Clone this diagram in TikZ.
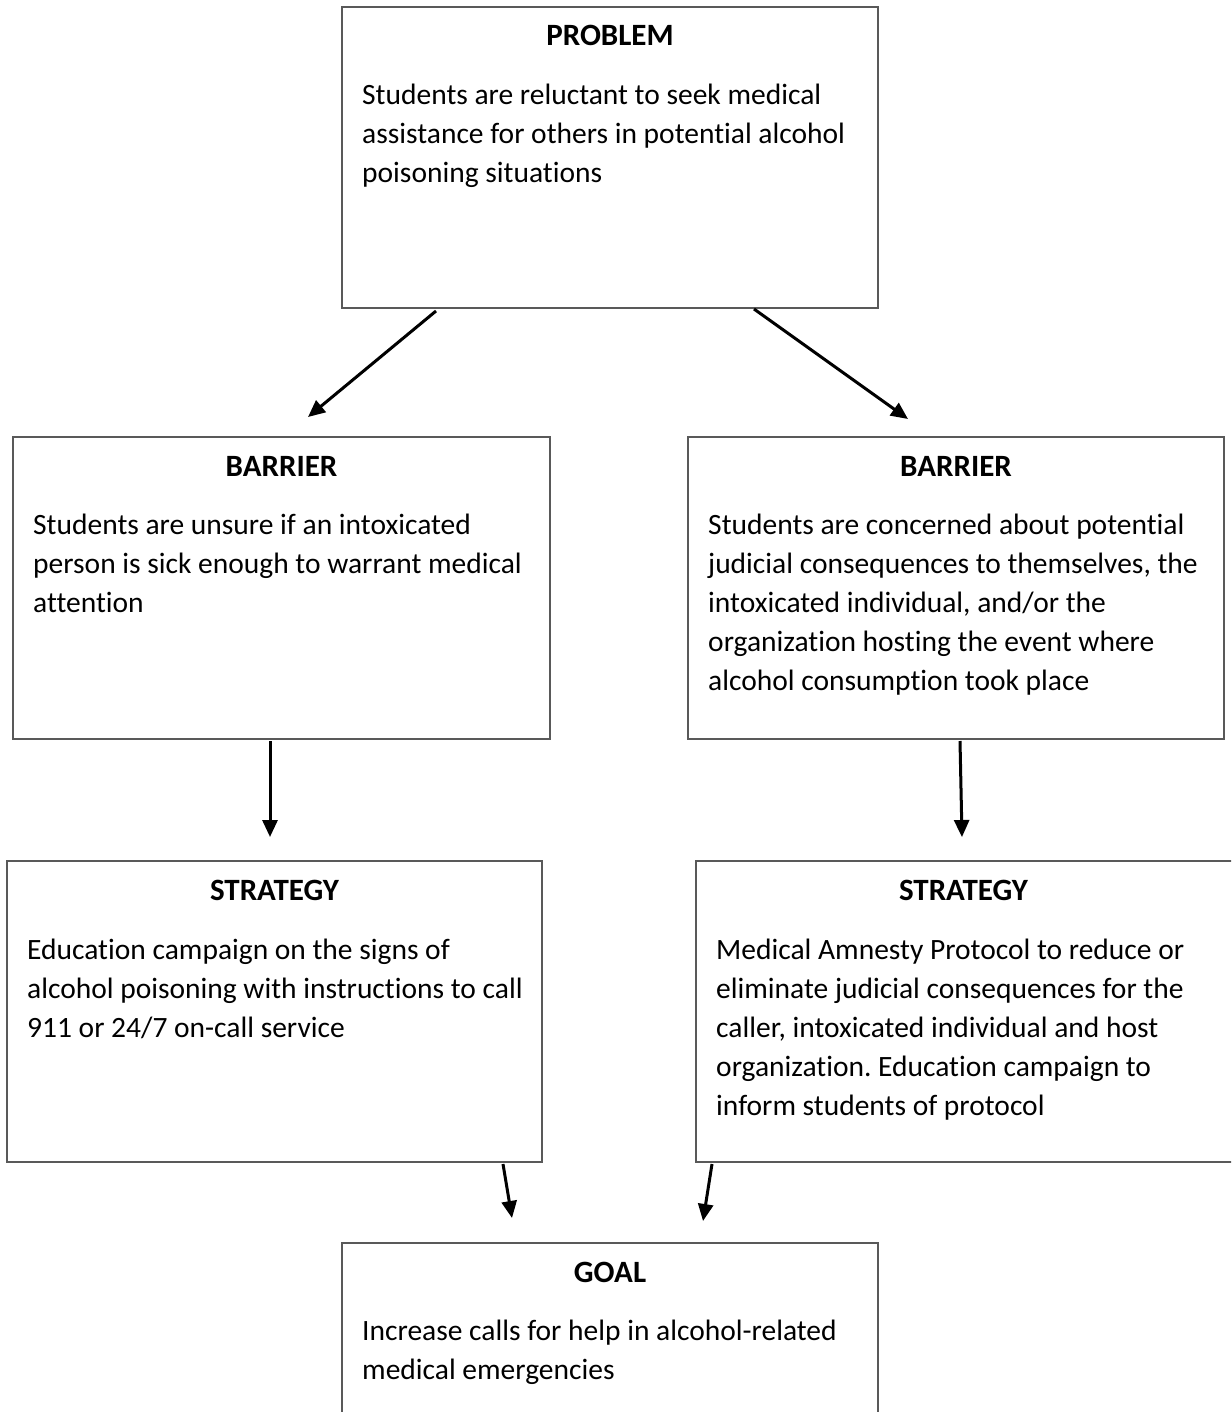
\documentclass[tikz,border=0pt]{standalone}
\usepackage{fontspec}
\setmainfont{Carlito}[RawFeature=-liga]
\usetikzlibrary{arrows.meta,calc}
\definecolor{boxgray}{HTML}{595959}
\tikzset{
  boxnode/.style={draw=boxgray, line width=2pt, anchor=north west, inner sep=0pt, outer sep=0pt},
  titlenode/.style={anchor=base, inner sep=0pt, font=\fontsize{31}{39}\selectfont\bfseries},
  bodynode/.style={anchor=north west, inner sep=0pt, align=left, font=\fontsize{29.5}{39}\selectfont},
  arrowline/.style={line width=3pt, -{Triangle[length=17pt,width=15pt]}}
}
\newcommand{\firstline}{\rule{0pt}{25pt}}
\frenchspacing
\begin{document}
\begin{tikzpicture}[x=1pt,y=-1pt]
\clip (0,0) rectangle (1231,1412);
\useasboundingbox (0,0) rectangle (1231,1412);
\fill[white] (0,0) rectangle (1231,1412);

% boxes
\node[boxnode, minimum width=536pt, minimum height=301pt] (prob) at (342,7) {};
\node[boxnode, minimum width=537pt, minimum height=302pt] (barL) at (13,437) {};
\node[boxnode, minimum width=536pt, minimum height=302pt] (barR) at (688,437) {};
\node[boxnode, minimum width=535pt, minimum height=301pt] (strL) at (7,861) {};
\node[boxnode, minimum width=560pt, minimum height=301pt] (strR) at (696,861) {};
\node[boxnode, minimum width=536pt, minimum height=250pt] (goal) at (342,1243) {};

% titles
\node[titlenode] (probT) at ($(prob.north)+(0,39)$) {PROBLEM};
\node[titlenode] (barLT) at ($(barL.north)+(0,39)$) {BARRIER};
\node[titlenode] (barRT) at ($(barR.north)+(0,39)$) {BARRIER};
\node[titlenode] (strLT) at ($(strL.north)+(0,39)$) {STRATEGY};
\node[titlenode] (strRT) at ($(strR.north west)+(267.5,39)$) {STRATEGY};
\node[titlenode] (goalT) at ($(goal.north)+(0,39)$) {GOAL};

% bodies
\node[bodynode] (probB) at ($(prob.north west)+(20,72)$) {\firstline Students are reluctant to seek medical\\assistance for others in potential alcohol\\poisoning situations};
\node[bodynode] (barLB) at ($(barL.north west)+(20,72)$) {\firstline Students are unsure if an intoxicated\\person is sick enough to warrant medical\\attention};
\node[bodynode] (barRB) at ($(barR.north west)+(20,72)$) {\firstline Students are concerned about potential\\judicial consequences to themselves, the\\intoxicated individual, and/or the\\organization hosting the event where\\alcohol consumption took place};
\node[bodynode] (strLB) at ($(strL.north west)+(20,73)$) {\firstline Education campaign on the signs of\\alcohol poisoning with instructions to call\\911 or 24/7 on-call service};
\node[bodynode] (strRB) at ($(strR.north west)+(20,73)$) {\firstline Medical Amnesty Protocol to reduce or\\eliminate judicial consequences for the\\caller, intoxicated individual and host\\organization. Education campaign to\\inform students of protocol};
\node[bodynode] (goalB) at ($(goal.north west)+(20,72)$) {\firstline Increase calls for help in alcohol-related\\medical emergencies};

% arrow ends
\coordinate (s1) at ($(prob.south west)+(94,3)$);
\coordinate (t1) at (308,417);
\coordinate (s2) at ($(prob.south west)+(412,1)$);
\coordinate (t2) at (908,419);
\coordinate (s3) at ($(barL.south west)+(257,2)$);
\coordinate (t3) at (270,837);
\coordinate (s4) at ($(barR.south west)+(272,2)$);
\coordinate (t4) at (962,837);
\coordinate (s5) at ($(strL.south west)+(496,2)$);
\coordinate (t5) at (512,1218);
\coordinate (s6) at ($(strR.south west)+(16,2)$);
\coordinate (t6) at (703,1221);

\draw[arrowline] (s1) -- (t1);
\draw[arrowline] (s2) -- (t2);
\draw[arrowline] (s3) -- (t3);
\draw[arrowline] (s4) -- (t4);
\draw[arrowline] (s5) -- (t5);
\draw[arrowline] (s6) -- (t6);
\end{tikzpicture}
\end{document}
